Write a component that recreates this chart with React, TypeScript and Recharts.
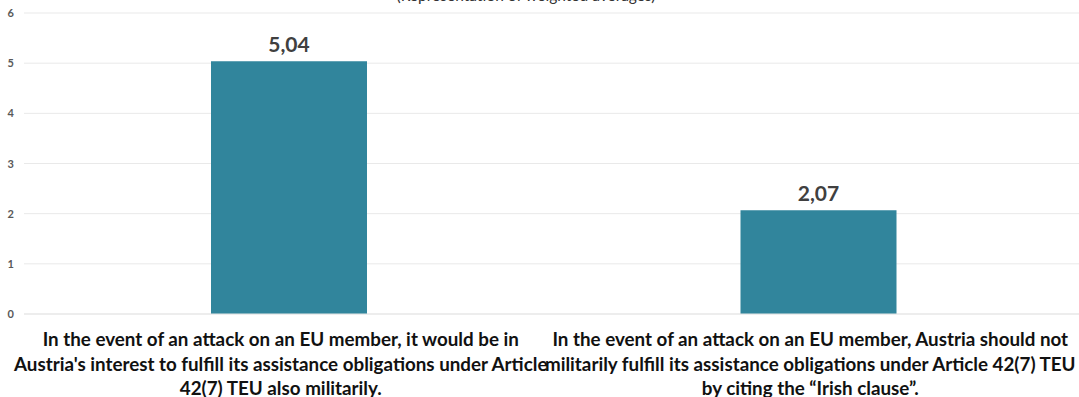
import { Bar, BarChart, CartesianGrid, LabelList, XAxis, YAxis } from "recharts";

// Statements on the x axis, one entry per wrapped line
const categories: string[][] = [
	[
		"In the event of an attack on an EU member, it would be in",
		"Austria's interest to fulfill its assistance obligations under Article",
		"42(7) TEU also militarily.",
	],
	[
		"In the event of an attack on an EU member, Austria should not",
		"militarily fulfill its assistance obligations under Article 42(7) TEU",
		"by citing the \u201cIrish clause\u201d.",
	],
];
const averages = [5.04, 2.07];
const yTicks = [0, 1, 2, 3, 4, 5, 6];
const subtitle = "(Representation of weighted averages)";

const data = categories.map((lines, i) => ({ key: String(i), lines, value: averages[i] }));

const FONT = "Lato, Carlito, Calibri, sans-serif";

function CategoryTick(props: any) {
	const { x, y, payload } = props;
	const lines: string[] = data[payload.index]?.lines ?? [];
	return (
		<g>
			{lines.map((line, i) => (
				<text
					key={i}
					x={x - 8}
					y={y + 24 + i * 24.6}
					textAnchor="middle"
					fontFamily={FONT}
					fontWeight={700}
					fontSize={18.8}
					fill="#111"
				>
					{line}
				</text>
			))}
		</g>
	);
}

function ValueTick(props: any) {
	const { y, payload } = props;
	return (
		<text x={14} y={y + 4} textAnchor="end" fontFamily={FONT} fontWeight={700} fontSize={11} fill="#595959">
			{payload.value}
		</text>
	);
}

export default function App() {
	return (
		<div style={{ position: "absolute", left: 0, top: 0, width: 1079, height: 397, overflow: "hidden", background: "#fff" }}>
			<BarChart width={1083} height={397} data={data} margin={{ top: 13, right: 0, bottom: 0, left: 0 }}>
				<text x={526} y={1} textAnchor="middle" fontFamily={FONT} fontSize={15.5} fill="#333">
					{subtitle}
				</text>
				<CartesianGrid vertical={false} stroke="#e9e9e9" strokeWidth={1} />
				<XAxis
					dataKey="key"
					height={83}
					axisLine={{ stroke: "#e6e6e6" }}
					tickLine={false}
					tick={<CategoryTick />}
					interval={0}
				/>
				<YAxis
					domain={[0, 6]}
					ticks={yTicks}
					width={24}
					axisLine={false}
					tickLine={false}
					tick={<ValueTick />}
				/>
				<Bar dataKey="value" fill="#31859c" barSize={156} isAnimationActive={false}>
					<LabelList
						dataKey="value"
						position="top"
						offset={9}
						formatter={(v: any) => Number(v).toFixed(2).replace(".", ",")}
						style={{ fontFamily: FONT, fontWeight: 700, fontSize: 21, fill: "#404040" }}
					/>
				</Bar>
			</BarChart>
		</div>
	);
}
